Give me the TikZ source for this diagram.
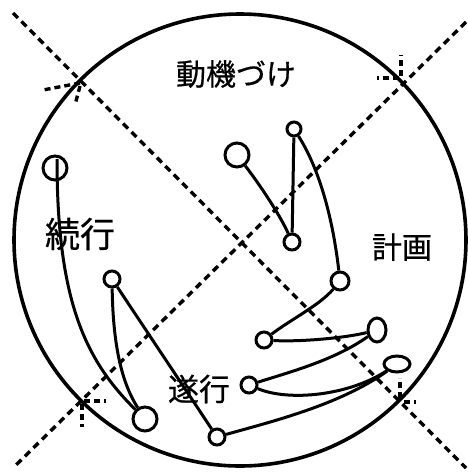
\documentclass[tikz,border=0pt]{standalone}
\usepackage{fontspec}
\newfontfamily\jp[FakeBold=0.6]{Noto Sans CJK JP}
\usetikzlibrary{shapes.geometric}
\begin{document}
\begin{tikzpicture}[x=1pt,y=-1pt,
 dsh/.style={line width=3.4pt, dash pattern=on 7pt off 5pt},
 tick/.style={line width=3.4pt, dash pattern=on 6pt off 4pt},
 rim/.style={line width=3.6pt},
 dot/.style={circle, draw, line width=3pt, inner sep=0pt, minimum size=#1},
 oval/.style={ellipse, draw, line width=3pt, inner sep=0pt},
 con/.style={line width=3pt},
 lbl/.style={font=\jp\fontsize{#1}{#1}\selectfont, inner sep=0pt}]
\useasboundingbox (0,0) rectangle (468,472);
% big circle
\draw[rim] (240,240) circle[radius=226];
% dashed diagonals
\draw[dsh] (13,13) -- (466,468);
\draw[dsh] (466,22) -- (13,468);
% small ticks at the crossings with the rim
\draw[tick] (80,83) -- (43,90);
\draw[tick] (80,86) -- (75,105);
\draw[tick] (401,76) -- (401,55);
\draw[tick] (399,78) -- (377,78);
\draw[tick] (84,401) -- (106,401);
\draw[tick] (82,404) -- (82,427);
\draw[tick] (400,398) -- (400,378);
\draw[tick] (404,402) -- (416,402);
% labels
\node[lbl=30pt] (t1) at (236,74) {動機づけ};
\node[lbl=35pt] (t2) at (80,234) {続行};
\node[lbl=30pt] (t3) at (402,247) {計画};
\node[lbl=31pt] (t4) at (199,389) {遂行};
% nodes
\node[dot=24pt] (A) at (55,168) {};
\node[dot=24pt] (B) at (145,419) {};
\node[dot=16pt] (C) at (112,279) {};
\node[dot=16pt] (D) at (217,437) {};
\node[oval, minimum width=26pt, minimum height=16pt] (E) at (397,364) {};
\node[dot=16pt] (F) at (249,385) {};
\node[oval, minimum width=18pt, minimum height=24pt] (G) at (377,330) {};
\node[dot=16pt] (H) at (264,340) {};
\node[dot=18pt] (I) at (340,281) {};
\node[dot=14pt] (J) at (294,129) {};
\node[dot=16pt] (K) at (292,242) {};
\node[dot=24pt] (L) at (237,155) {};
\coordinate (a0) at (57,159);
% connectors
\draw[con] (a0) .. controls (57,300) and (85,360) .. (B);
\draw[con] (C) .. controls (113,340) and (120,380) .. (B);
\draw[con] (C) -- (D);
\draw[con] (D) .. controls (270,422) and (340,405) .. (E);
\draw[con] (F) .. controls (290,402) and (350,395) .. (E);
\draw[con] (G) .. controls (335,360) and (290,372) .. (F);
\draw[con] (H) .. controls (300,342) and (345,338) .. (G);
\draw[con] (I) .. controls (320,305) and (290,320) .. (H);
\draw[con] (J) -- (K);
\draw[con] (J) .. controls (320,170) and (333,220) .. (I);
\draw[con] (L) .. controls (260,185) and (280,215) .. (K);
\end{tikzpicture}
\end{document}
